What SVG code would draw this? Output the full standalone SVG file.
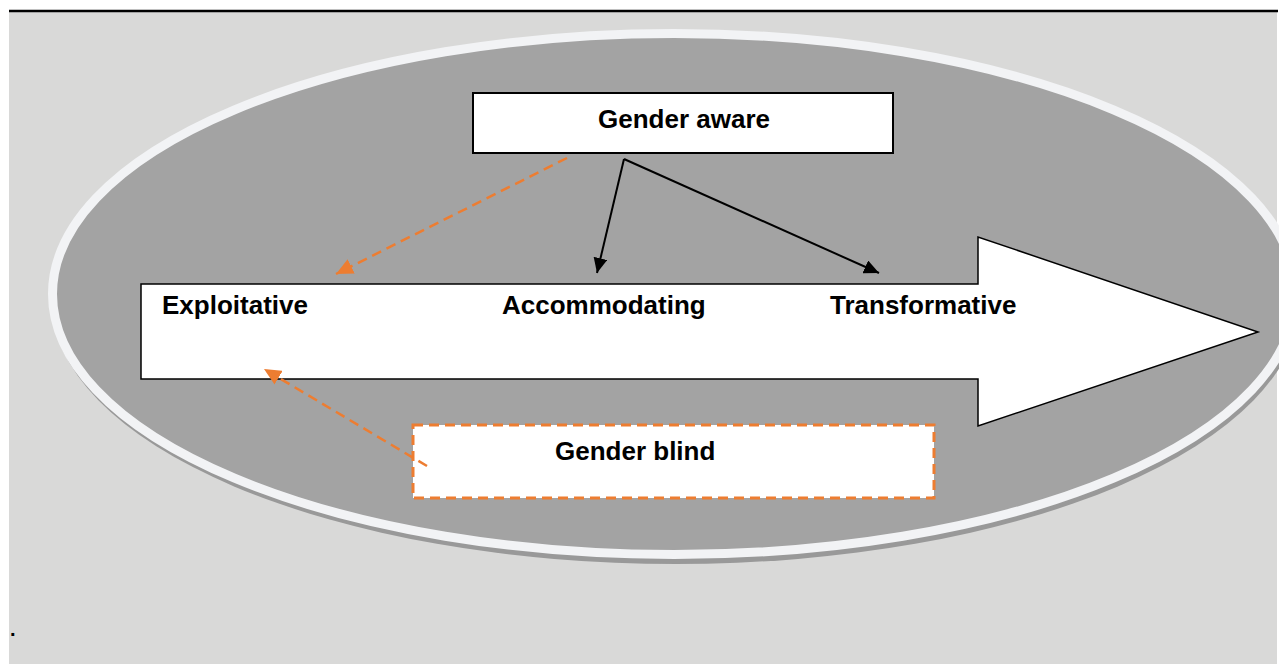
<svg xmlns="http://www.w3.org/2000/svg" width="1279" height="664" viewBox="0 0 1279 664">
  <style>
    .lbl { font-family: "Liberation Sans", Arial, sans-serif; font-weight: bold; font-size: 26px; fill: #000; }
    .blk { stroke: #000; stroke-width: 2; fill: none; }
    .org { stroke: #ed7d31; stroke-width: 2.5; stroke-dasharray: 10 6; fill: none; }
  </style>
  <defs>
    <marker id="ahBlack" markerUnits="userSpaceOnUse" markerWidth="16" markerHeight="14" refX="15" refY="7" orient="auto">
      <path d="M0,0 L15,7 L0,14 Z" fill="#000"/>
    </marker>
    <marker id="ahOrange" markerUnits="userSpaceOnUse" markerWidth="18" markerHeight="16" refX="17" refY="8" orient="auto">
      <path d="M0,0 L17,8 L0,16 Z" fill="#ed7d31"/>
    </marker>
  </defs>

  <rect x="0" y="0" width="1279" height="664" fill="#ffffff"/>
  <rect x="9" y="12" width="1268" height="652" fill="#d9d9d8"/>
  <line x1="9" y1="11" x2="1278" y2="11" stroke="#000" stroke-width="2.5"/>

  <g id="ellipse">
    <ellipse cx="676" cy="299" rx="625" ry="265" fill="#999999"/>
    <ellipse cx="674" cy="294" rx="621.5" ry="260.5" fill="#a3a3a3" stroke="#f2f3f5" stroke-width="9"/>
  </g>

  <g id="arrow-scale">
    <path d="M141,284 H978 V237 L1258,332 L978,426 V379 H141 Z" fill="#ffffff" stroke="#000" stroke-width="1.5"/>
    <text class="lbl" x="162" y="314">Exploitative</text>
    <text class="lbl" x="502" y="314">Accommodating</text>
    <text class="lbl" x="830" y="314">Transformative</text>
  </g>

  <g id="gender-aware">
    <rect x="473" y="93" width="420" height="60" fill="#ffffff" stroke="#000" stroke-width="2"/>
    <text class="lbl" x="598" y="128">Gender aware</text>
  </g>

  <g id="gender-blind">
    <rect x="413" y="425" width="521" height="73" fill="#ffffff" stroke="#ed7d31" stroke-width="3" stroke-dasharray="10 6"/>
    <text class="lbl" x="555" y="460">Gender blind</text>
  </g>

  <g id="connectors">
    <path class="blk" d="M624,159 L597,273" marker-end="url(#ahBlack)"/>
    <path class="blk" d="M624,159 L879,273" marker-end="url(#ahBlack)"/>
    <path class="org" d="M567,158 L336,274" marker-end="url(#ahOrange)"/>
    <path class="org" d="M427,466 L264,369" marker-end="url(#ahOrange)"/>
  </g>

  <text x="10" y="636" font-family="Liberation Sans, Arial, sans-serif" font-weight="bold" font-size="20" fill="#000">.</text>
</svg>
